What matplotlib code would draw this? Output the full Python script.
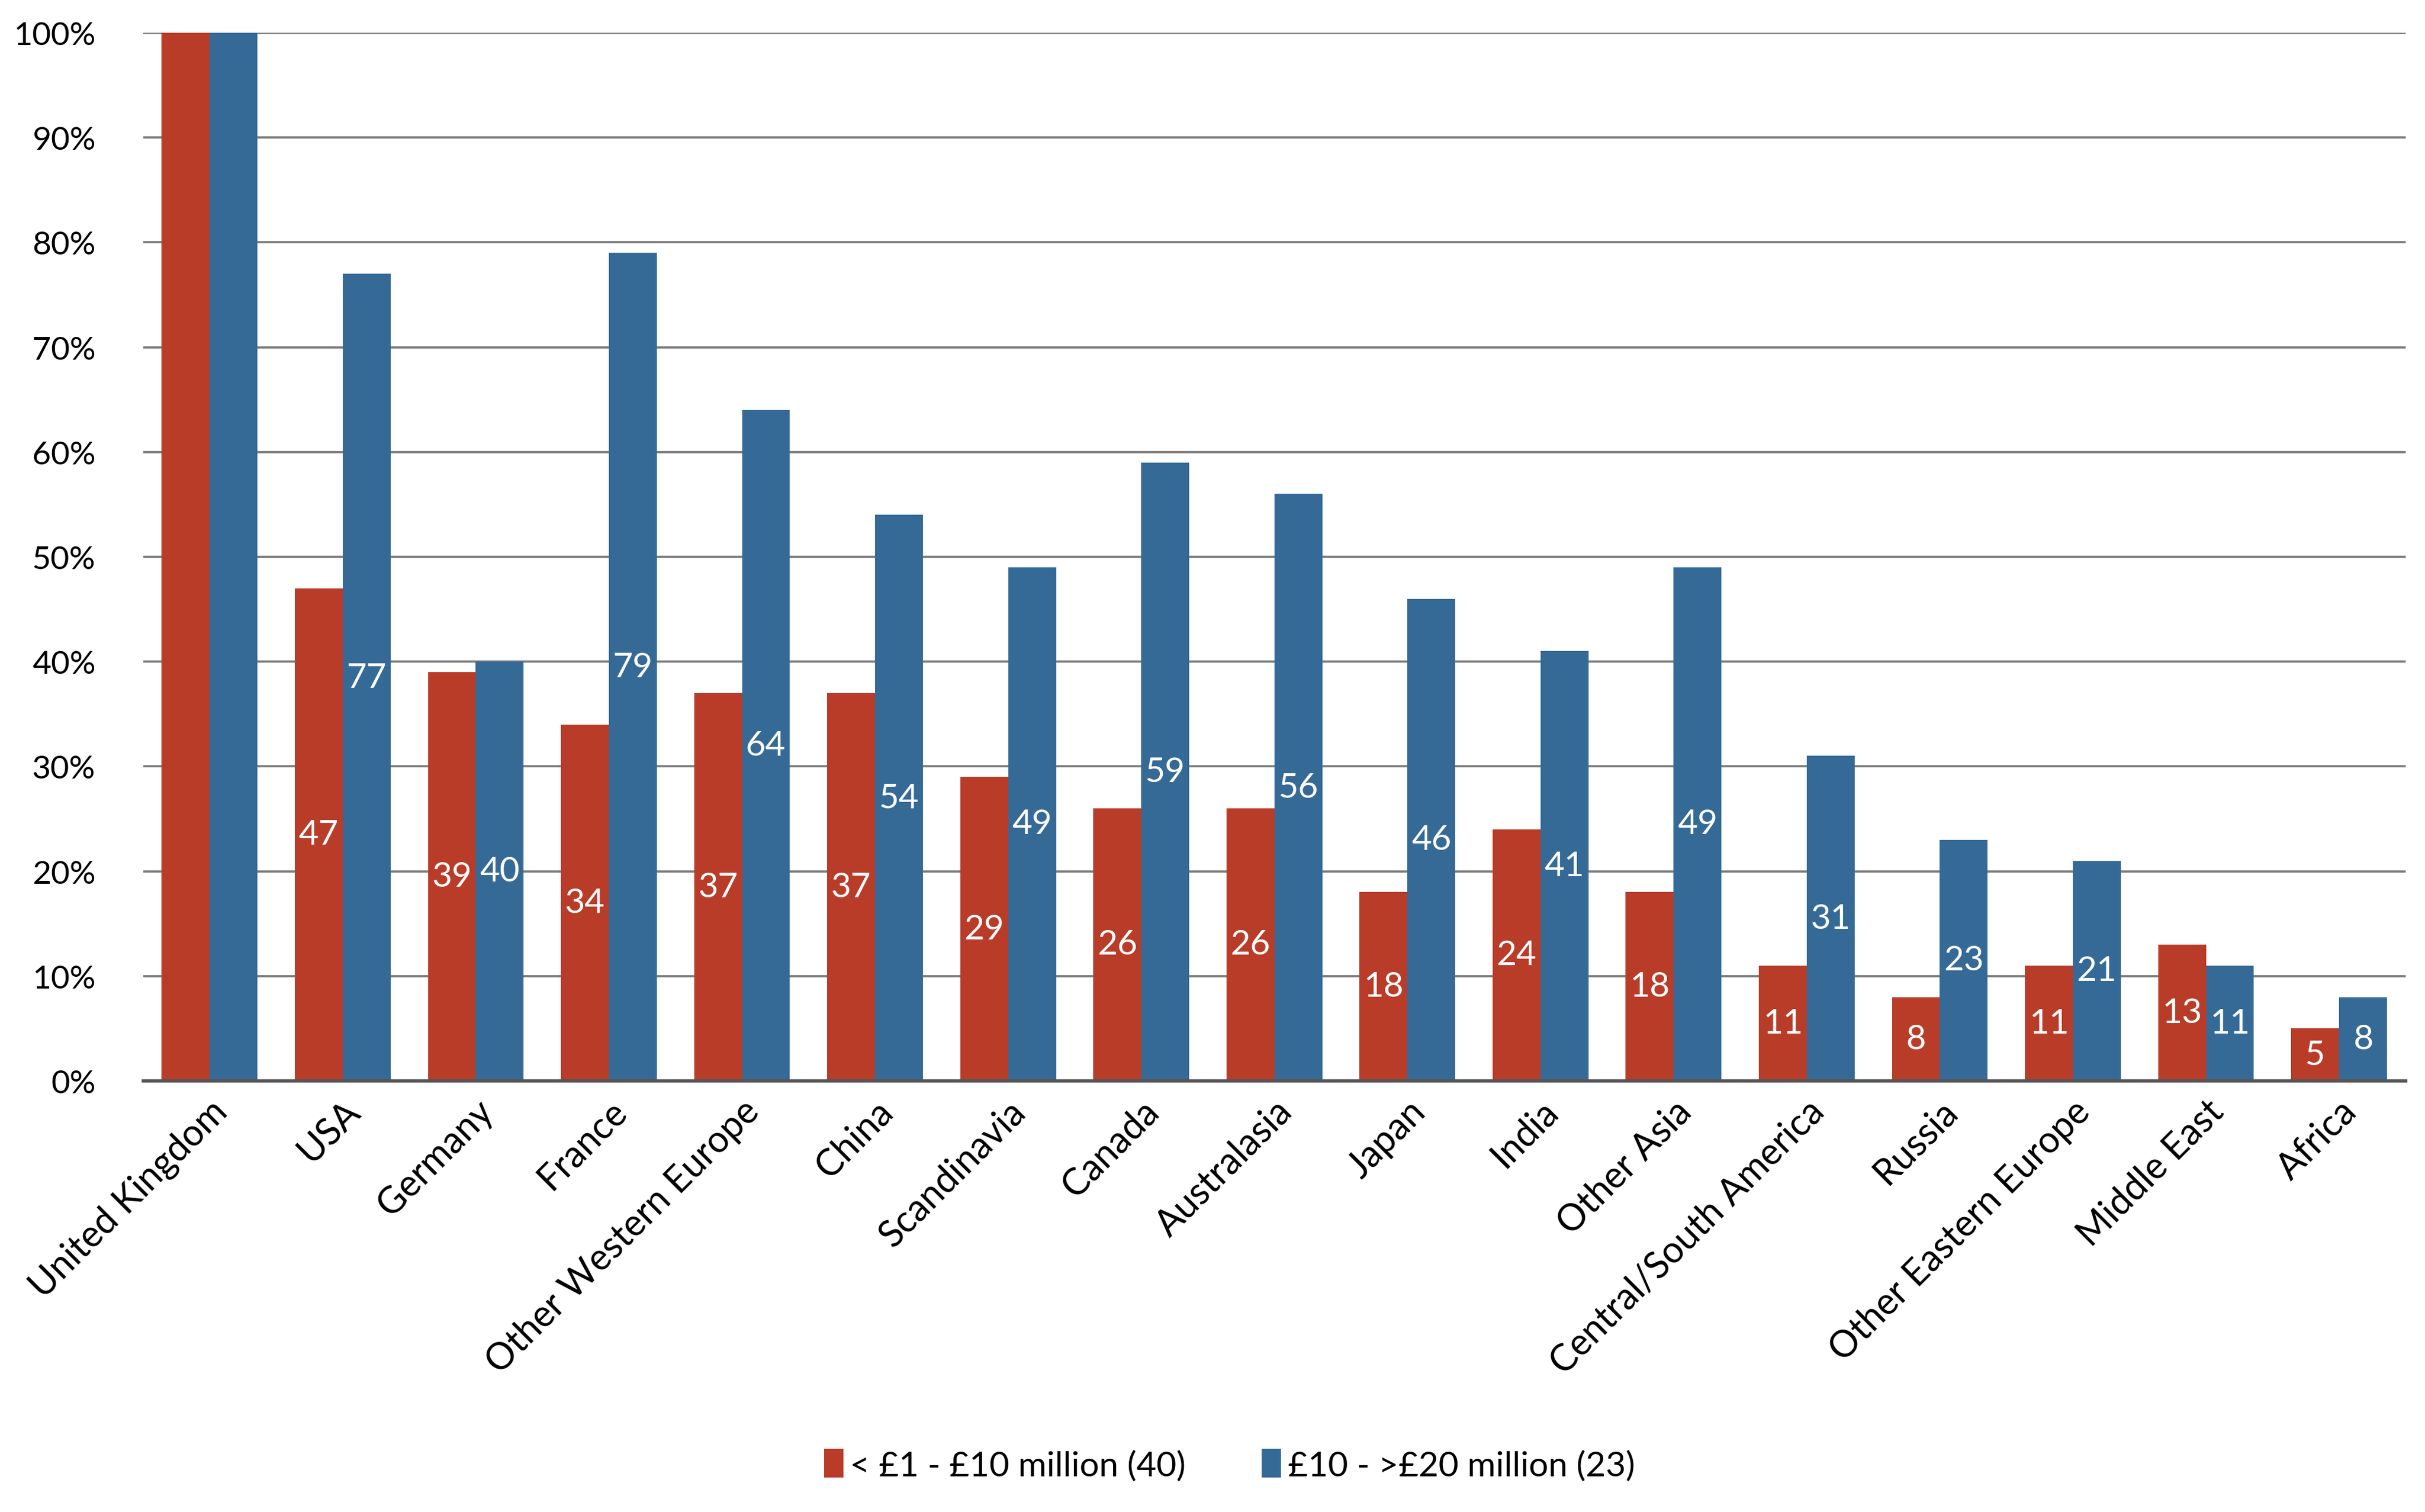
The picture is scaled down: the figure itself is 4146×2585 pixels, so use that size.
import numpy as np
import matplotlib
matplotlib.use("Agg")
import matplotlib.pyplot as plt
from matplotlib.ticker import FuncFormatter

plt.rcParams['font.family'] = ['Lato', 'DejaVu Sans']

regions = ["United Kingdom", "USA", "Germany", "France", "Other Western Europe",
           "China", "Scandinavia", "Canada", "Australasia", "Japan", "India",
           "Other Asia", "Central/South America", "Russia", "Other Eastern Europe",
           "Middle East", "Africa"]
small = [100, 47, 39, 34, 37, 37, 29, 26, 26, 18, 24, 18, 11, 8, 11, 13, 5]
large = [100, 77, 40, 79, 64, 54, 49, 59, 56, 46, 41, 49, 31, 23, 21, 11, 8]
names = ["< £1 - £10 million (40)", "£10 - >£20 million (23)"]

red = '#B93C29'
blue = '#356A97'

fig = plt.figure(figsize=(15.6, 9.73), dpi=265.77)
ax = fig.add_axes([0.059, 0.285, 0.933, 0.693])

x = np.arange(len(regions))
w = 0.36
b1 = ax.bar(x - w/2, small, w, color=red, label=names[0], zorder=3)
b2 = ax.bar(x + w/2, large, w, color=blue, label=names[1], zorder=3)

# value labels in the middle of each bar (UK has none)
for bars, vals in ((b1, small), (b2, large)):
    for i, (r, v) in enumerate(zip(bars, vals)):
        if i == 0:
            continue
        ax.text(r.get_x() + r.get_width()/2, v/2, str(v), ha='center', va='center',
                color='white', fontsize=16, zorder=4)

ax.set_xlim(-0.5, len(regions) - 0.5)
ax.set_ylim(0, 100)
ax.set_yticks(np.arange(0, 101, 10))
ax.yaxis.set_major_formatter(FuncFormatter(lambda v, p: f"{int(v)}%"))
ax.grid(axis='y', color='#7a7a7a', linewidth=1.0, zorder=0)
ax.set_axisbelow(True)

for s in ['left', 'right', 'top']:
    ax.spines[s].set_visible(False)
ax.spines['bottom'].set_color('#555555')
ax.spines['bottom'].set_linewidth(1.5)
ax.spines['bottom'].set_zorder(5)

ax.tick_params(axis='y', length=0, labelsize=15, pad=22)
ax.tick_params(axis='x', length=0, labelsize=17, pad=6)
ax.set_xticks(x)
ax.set_xticklabels(regions, rotation=45, ha='right', rotation_mode='anchor')

fig.legend(handles=[b1, b2], labels=names, loc='center', bbox_to_anchor=(0.507, 0.031),
           ncol=2, frameon=False, fontsize=16, handlelength=0.55, handleheight=0.9,
           handletextpad=0.2, columnspacing=2.2)

fig.savefig('out.png', dpi=265.77)
